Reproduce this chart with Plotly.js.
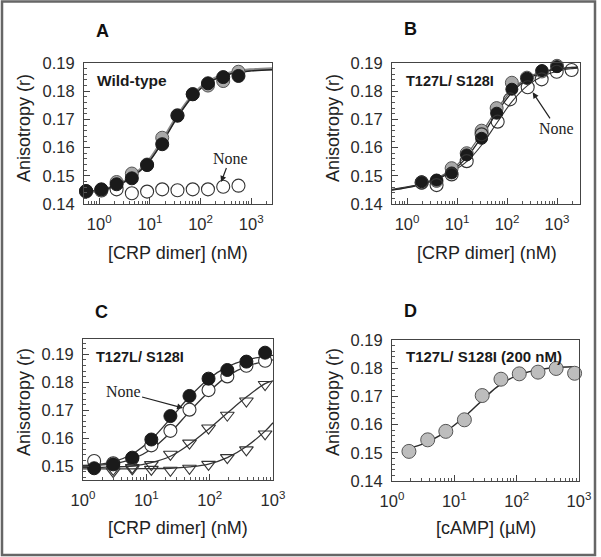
<!DOCTYPE html>
<html><head><meta charset="utf-8">
<script src="https://cdn.plot.ly/plotly-3.0.1.min.js"></script>
<style>html,body{margin:0;padding:0;background:#fff}#chart{width:601px;height:557px}</style>
</head><body><div id="chart"></div>
<script>
// ---------- Panel A : Wild-type ----------
const aX      = [0.55, 1.1, 2.2, 4.4, 8.8, 17.5, 35, 70, 140, 280, 560];
const aFilled = [0.1446, 0.1452, 0.1470, 0.1491, 0.1538, 0.1612, 0.1713, 0.1789, 0.1828, 0.1850, 0.1854];
const aGray   = [0.1444, 0.1450, 0.1478, 0.1508, 0.1540, 0.1635, 0.1715, 0.1790, 0.1820, 0.1836, 0.1869];
const aNone   = [0.1445, 0.1448, 0.1452, 0.1438, 0.1444, 0.1452, 0.1449, 0.1452, 0.1452, 0.1461, 0.1465];
const aCurveX     = [0.55, 1.1, 2.2, 4.4, 8.8, 17.5, 35, 70, 140, 280, 560, 1000, 2600];
const aCurveBlack = [0.1445, 0.1450, 0.1465, 0.1495, 0.1542, 0.1618, 0.1708, 0.1782, 0.1829, 0.1854, 0.1867, 0.1872, 0.1876];
const aCurveGray  = [0.1443, 0.1449, 0.1466, 0.1497, 0.1546, 0.1624, 0.1713, 0.1786, 0.1833, 0.1858, 0.1871, 0.1876, 0.1880];

// ---------- Panel B : T127L/ S128I ----------
const bX      = [1.96, 3.9, 7.8, 15.6, 31, 62, 125, 250, 500, 1000];
const bFilled = [0.1479, 0.1485, 0.1510, 0.1574, 0.1633, 0.1722, 0.1807, 0.1846, 0.1873, 0.1887];
const bGray   = [0.1475, 0.1482, 0.1527, 0.1580, 0.1660, 0.1740, 0.1830, 0.1848, 0.1870, 0.1890];
const bNoneX  = [1.96, 3.9, 7.8, 15.6, 31, 65, 115, 259, 493, 985, 1960];
const bNone   = [0.1476, 0.1467, 0.1505, 0.1552, 0.1647, 0.1692, 0.1771, 0.1814, 0.1842, 0.1869, 0.1875];
const bCurveX    = [0.5, 1, 2, 4, 8, 16, 32, 64, 128, 256, 512, 1000, 2000, 2600];
const bCurveMain = [0.1449, 0.1458, 0.1470, 0.1488, 0.1517, 0.1568, 0.1642, 0.1727, 0.1797, 0.1843, 0.1866, 0.1878, 0.1883, 0.1884];
const bCurveGray = [0.1450, 0.1459, 0.1472, 0.1492, 0.1524, 0.1578, 0.1655, 0.1738, 0.1805, 0.1848, 0.1869, 0.1880, 0.1885, 0.1886];
const bCurveNone = [0.1452, 0.1461, 0.1473, 0.1490, 0.1515, 0.1552, 0.1612, 0.1690, 0.1765, 0.1820, 0.1853, 0.1871, 0.1880, 0.1882];

// ---------- Panel C : T127L/ S128I ----------
const cX      = [1.5, 3, 6, 12, 24, 48, 96, 190, 380, 750];
const cFilled = [0.1492, 0.1506, 0.1530, 0.1595, 0.1679, 0.1751, 0.1813, 0.1844, 0.1874, 0.1906];
const cOpen   = [0.1518, 0.1510, 0.1527, 0.1574, 0.1626, 0.1702, 0.1772, 0.1821, 0.1859, 0.1877];
const cTriX   = [3, 6, 12, 24, 48, 96, 190, 380, 750];
const cTri1   = [0.1480, 0.1495, 0.1505, 0.1542, 0.1582, 0.1636, 0.1682, 0.1733, 0.1792];
const cTri2   = [0.1488, 0.1490, 0.1488, 0.1485, 0.1492, 0.1506, 0.1530, 0.1558, 0.1615];
const cCurveX      = [1, 1.5, 3, 6, 12, 24, 48, 96, 190, 380, 750, 1000];
const cCurveFilled = [0.1502, 0.1505, 0.1515, 0.1543, 0.1595, 0.1670, 0.1748, 0.1812, 0.1855, 0.1880, 0.1893, 0.1896];
const cCurveOpen   = [0.1500, 0.1502, 0.1508, 0.1525, 0.1560, 0.1620, 0.1695, 0.1765, 0.1822, 0.1857, 0.1875, 0.1880];
const cCurveTri1   = [0.1495, 0.1495, 0.1497, 0.1500, 0.1512, 0.1535, 0.1578, 0.1632, 0.1690, 0.1747, 0.1795, 0.1805];
const cCurveTri2   = [0.1490, 0.1490, 0.1490, 0.1490, 0.1491, 0.1492, 0.1497, 0.1507, 0.1530, 0.1570, 0.1625, 0.1655];

// ---------- Panel D : cAMP titration ----------
const dX = [1.87, 3.74, 7.3, 14.5, 28, 56, 110, 220, 430, 850];
const dY = [0.1505, 0.1546, 0.1576, 0.1617, 0.1703, 0.1761, 0.1780, 0.1786, 0.1799, 0.1782];
const dCurveX = [1.5, 3, 6, 12, 24, 48, 96, 200, 400, 800];
const dCurve  = [0.1512, 0.1530, 0.1563, 0.1612, 0.1672, 0.1733, 0.1772, 0.1793, 0.1802, 0.1805];

// ---------- Tick labels & texts ----------
const xTickVals = [1, 10, 100, 1000];
const xTickText = ['10<sup>0</sup>', '10<sup>1</sup>', '10<sup>2</sup>', '10<sup>3</sup>'];
const yTickVals = [0.14, 0.15, 0.16, 0.17, 0.18, 0.19];
const yTickText = ['0.14', '0.15', '0.16', '0.17', '0.18', '0.19'];
const panelLetters = ['A', 'B', 'C', 'D'];
const innerLabels = ['Wild-type', 'T127L/ S128I', 'T127L/ S128I', 'T127L/ S128I (200 nM)'];
const xTitles = ['[CRP dimer] (nM)', '[CRP dimer] (nM)', '[CRP dimer] (nM)', '[cAMP] (\u00b5M)'];
const yTitle = 'Anisotropy (r)';
const noneText = 'None';
// arrow tips of "None" callouts [x, y] in data units
const noneTipA = [255, 0.1478];
const noneTipB = [326, 0.1796];
const noneTipC = [38, 0.1708];

// ---------- helpers ----------
const INK = '#1a1a1a';
function pts(x, y, xa, ya, marker) {
  return {type: 'scatter', mode: 'markers', x: x, y: y, xaxis: xa, yaxis: ya,
          marker: marker, hoverinfo: 'skip', cliponaxis: false};
}
function curve(x, y, xa, ya, color, width) {
  return {type: 'scatter', mode: 'lines', x: x, y: y, xaxis: xa, yaxis: ya,
          line: {color: color, width: width, shape: 'spline', smoothing: 1}, hoverinfo: 'skip'};
}
const filledM = s => ({symbol: 'circle', size: s, color: INK, line: {color: INK, width: 1}});
const grayM   = s => ({symbol: 'circle', size: s, color: '#a8a8a8', line: {color: '#555', width: 1}});
const openM   = s => ({symbol: 'circle', size: s, color: '#fff', line: {color: '#333', width: 1.1}});
const ringM   = s => ({symbol: 'circle-open', size: s, color: '#333', line: {color: '#333', width: 1.1}});
const triM    = s => ({symbol: 'triangle-down-open', size: s, color: '#333', line: {color: '#333', width: 1.1}});

const traces = [
  // A
  curve(aCurveX, aCurveGray, 'x', 'y', '#8a8a8a', 3),
  curve(aCurveX, aCurveBlack, 'x', 'y', '#222', 1.4),
  pts(aX, aNone, 'x', 'y', openM(13)),
  pts(aX, aGray, 'x', 'y', grayM(13)),
  pts(aX, aFilled, 'x', 'y', filledM(13)),
  // B
  curve(bCurveX, bCurveGray, 'x2', 'y2', '#666', 1.3),
  curve(bCurveX, bCurveMain, 'x2', 'y2', '#222', 1.3),
  curve(bCurveX, bCurveNone, 'x2', 'y2', '#333', 1.1),
  pts(bX, bGray, 'x2', 'y2', grayM(13)),
  pts(bX, bFilled, 'x2', 'y2', filledM(12)),
  pts(bNoneX, bNone, 'x2', 'y2', ringM(13)),
  // C
  curve(cCurveX, cCurveFilled, 'x3', 'y3', '#333', 1.3),
  curve(cCurveX, cCurveOpen, 'x3', 'y3', '#333', 1.3),
  curve(cCurveX, cCurveTri1, 'x3', 'y3', '#333', 1.3),
  curve(cCurveX, cCurveTri2, 'x3', 'y3', '#333', 1.3),
  pts(cTriX, cTri2, 'x3', 'y3', triM(12)),
  pts(cTriX, cTri1, 'x3', 'y3', triM(12)),
  pts(cX, cOpen, 'x3', 'y3', openM(13)),
  pts(cX, cFilled, 'x3', 'y3', filledM(13)),
  // D
  curve(dCurveX, dCurve, 'x4', 'y4', '#2a2a2a', 1.5),
  pts(dX, dY, 'x4', 'y4', {symbol: 'circle', size: 14, color: '#bdbdbd', line: {color: '#555', width: 1}})
];

const W = 601, H = 557;
const px = v => v / W, py = v => 1 - v / H;
const tickFont = {family: 'Liberation Sans, Arial, sans-serif', size: 16.5, color: '#2a2a2a'};
function xAxis(l, r, range, anchor) {
  return {type: 'log', domain: [px(l), px(r)], range: range, anchor: anchor,
          tickmode: 'array', tickvals: xTickVals, ticktext: xTickText,
          ticks: 'inside', ticklen: 6, tickcolor: '#444', tickwidth: 1,
          minor: {ticks: 'inside', ticklen: 3, tickcolor: '#555', dtick: 'D1', showgrid: false},
          showline: true, mirror: true, linecolor: '#444', linewidth: 1,
          showgrid: false, zeroline: false, tickfont: tickFont, ticklabelstandoff: 5, fixedrange: true};
}
function yAxis(t, b, range, anchor) {
  return {domain: [py(b), py(t)], range: range, anchor: anchor,
          tickmode: 'array', tickvals: yTickVals, ticktext: yTickText,
          ticks: 'inside', ticklen: 6, tickcolor: '#444', tickwidth: 1,
          minor: {ticks: 'inside', ticklen: 3, tickcolor: '#555', dtick: 0.002, showgrid: false},
          showline: true, mirror: true, linecolor: '#444', linewidth: 1,
          showgrid: false, zeroline: false, tickfont: tickFont, ticklabelstandoff: 5, fixedrange: true};
}

const L = Math.log10;
const ann = [];
const letterPos = [[103, 31], [411, 29], [102, 312], [411, 311]];
panelLetters.forEach((t, i) => ann.push({text: '<b>' + t + '</b>', xref: 'paper', yref: 'paper',
  x: px(letterPos[i][0]), y: py(letterPos[i][1]), xanchor: 'center', yanchor: 'middle', showarrow: false,
  font: {family: 'Liberation Sans, Arial, sans-serif', size: 18, color: '#111'}}));
const innerPos = [[95, 81, 15.5], [404, 81, 14.5], [94, 357, 14.5], [404, 356, 15]];
innerLabels.forEach((t, i) => ann.push({text: '<b>' + t + '</b>', xref: 'paper', yref: 'paper',
  x: px(innerPos[i][0]), y: py(innerPos[i][1]), xanchor: 'left', yanchor: 'middle', showarrow: false,
  font: {family: 'Liberation Sans, Arial, sans-serif', size: innerPos[i][2], color: '#1a1a1a'}}));
const xTitlePos = [[178, 253], [487, 253], [178, 528], [486, 528]];
xTitles.forEach((t, i) => ann.push({text: t, xref: 'paper', yref: 'paper',
  x: px(xTitlePos[i][0]), y: py(xTitlePos[i][1]), xanchor: 'center', yanchor: 'middle', showarrow: false,
  font: {family: 'Liberation Sans, Arial, sans-serif', size: 18, color: '#222'}}));
const yTitlePos = [[24, 128], [333, 128], [24, 402], [333, 402]];
yTitlePos.forEach(p => ann.push({text: yTitle, xref: 'paper', yref: 'paper', textangle: -90,
  x: px(p[0]), y: py(p[1]), xanchor: 'center', yanchor: 'middle', showarrow: false,
  font: {family: 'Liberation Sans, Arial, sans-serif', size: 18, color: '#222'}}));
const noneFont = {family: 'Liberation Serif, Times New Roman, serif', size: 16, color: '#222'};
const arrowStyle = {showarrow: true, arrowhead: 2, arrowsize: 1, arrowwidth: 1.2, arrowcolor: '#222', standoff: 0};
ann.push(Object.assign({text: noneText, xref: 'x', yref: 'y', x: L(noneTipA[0]), y: noneTipA[1], ax: 9, ay: -24, font: noneFont}, arrowStyle));
ann.push(Object.assign({text: noneText, xref: 'x2', yref: 'y2', x: L(noneTipB[0]), y: noneTipB[1], ax: 24, ay: 36, font: noneFont}, arrowStyle));
ann.push(Object.assign({text: noneText, xref: 'x3', yref: 'y3', x: L(noneTipC[0]), y: noneTipC[1], ax: -60, ay: -16, font: noneFont}, arrowStyle));

const layout = {
  width: W, height: H, margin: {l: 0, r: 0, t: 0, b: 0},
  paper_bgcolor: '#fff', plot_bgcolor: '#fff', showlegend: false,
  xaxis:  xAxis(84, 272, [L(0.5), 3.41], 'y'),
  yaxis:  yAxis(63, 204, [0.14, 0.19], 'x'),
  xaxis2: xAxis(392, 580, [L(0.5), 3.46], 'y2'),
  yaxis2: yAxis(63, 204, [0.14, 0.19], 'x2'),
  xaxis3: xAxis(83, 273, [0, 3], 'y3'),
  yaxis3: yAxis(339, 480, [0.145, 0.1955], 'x3'),
  xaxis4: xAxis(392, 579, [0, 3], 'y4'),
  yaxis4: yAxis(340, 481, [0.14, 0.19], 'x4'),
  annotations: ann,
  shapes: [{type: 'rect', xref: 'paper', yref: 'paper', x0: px(2), x1: px(595), y0: py(555), y1: py(1.5),
            line: {color: '#666', width: 2.5}, fillcolor: 'rgba(0,0,0,0)'}]
};
Plotly.newPlot('chart', traces, layout, {staticPlot: true, displayModeBar: false});
</script></body></html>
